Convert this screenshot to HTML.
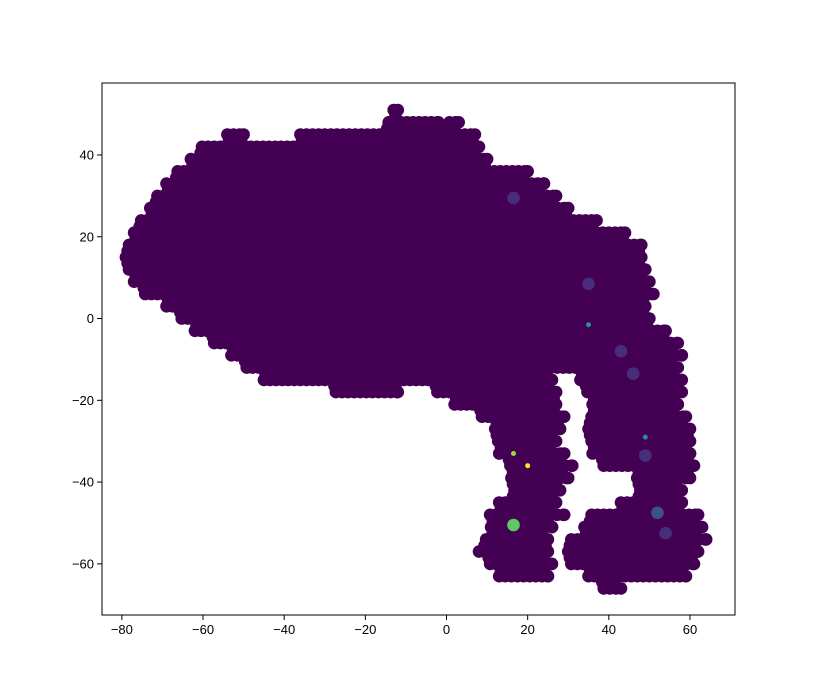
<!DOCTYPE html>
<html><head><meta charset="utf-8"><style>
body{margin:0;background:#fff;}
svg text{font-family:"Liberation Sans",sans-serif;font-size:13px;fill:#000;}
</style></head><body>
<svg id="chart" width="817" height="691" xmlns="http://www.w3.org/2000/svg">
<rect width="817" height="691" fill="#fff"/>
<g id="marks"></g>
<g id="axes"></g>
</svg>
<script>
// Observed point cloud: for each row y (data units), the x-intervals covered by points
const rowY = [51,48,45,42,39,36,33,30,27,24,21,18,15,12,9,6,3,0,-3,-6,-9,-12,-15,-18,-21,-24,-27,-30,-33,-36,-39,-42,-45,-48,-51,-54,-57,-60,-63,-66];
const rowSpans = [
 [[-13,-12]],
 [[-15,-2],[0,3]],
 [[-54,-50],[-36,7]],
 [[-61,8]],
 [[-63,10]],
 [[-67,20]],
 [[-69,24]],
 [[-72,27]],
 [[-73,30]],
 [[-76,37]],
 [[-77,44]],
 [[-79,48]],
 [[-79,48]],
 [[-79,49]],
 [[-77,50]],
 [[-75,51]],
 [[-69,49]],
 [[-66,50]],
 [[-62,54]],
 [[-58,57]],
 [[-53,58]],
 [[-50,57]],
 [[-45,26],[33,58]],
 [[-28,-12],[-3,27],[34,58]],
 [[2,27],[36,57]],
 [[8,29],[35,59]],
 [[12,28],[35,60]],
 [[12,27],[35,60]],
 [[13,29],[36,60]],
 [[15,31],[38,61]],
 [[16,30],[47,60]],
 [[16,28],[47,58]],
 [[13,27],[43,58]],
 [[10,29],[35,62]],
 [[11,26],[34,63]],
 [[9,25],[30,64]],
 [[8,25],[30,62]],
 [[10,26],[30,61]],
 [[13,25],[35,59]],
 [[38,43]]
];
// Highlighted (non-zero class) points
const hiX = [16.5, 35, 43, 46, 49, 54, 52];
const hiY = [29.5, 8.5, -8, -13.5, -33.5, -52.5, -47.5];
const hiColor = ["#472d7b","#472d7b","#472d7b","#472d7b","#472d7b","#472d7b","#3b528b"];
const smallX = [20, 35, 16.5, 49];
const smallY = [-36, -1.5, -33, -29];
const smallColor = ["#fde725","#21918c","#a0da39","#21918c"];
const greenX = [16.5], greenY = [-50.5];
const xTicks = [-80,-60,-40,-20,0,20,40,60];
const yTicks = [-60,-40,-20,0,20,40];

const L=102,R=735,T=83,B=615;
const xMin=-84.9,xMax=71.1,yMin=-72.5,yMax=57.6;
const sx=v=>L+(v-xMin)/(xMax-xMin)*(R-L);
const sy=v=>B-(v-yMin)/(yMax-yMin)*(B-T);
const NS="http://www.w3.org/2000/svg";
const marks=document.getElementById('marks');
const axes=document.getElementById('axes');
function dot(x,y,c,name,r){
  const e=document.createElementNS(NS,'circle');
  e.setAttribute('cx',sx(x).toFixed(1));e.setAttribute('cy',sy(y).toFixed(1));
  e.setAttribute('r',r||6.3);e.setAttribute('fill',c);
  
  
  marks.appendChild(e);
}
rowY.forEach((y,i)=>{
  const off=(i%2)*0.75;
  rowSpans[i].forEach(s=>{
    for(let x=s[0]+off;x<=s[1]+0.01;x+=1.5) dot(x,y,'#440154','point');
    dot(s[1],y,'#440154','point');
  });
  // fill between this row and the next where spans overlap
  if(i<rowY.length-1){
    const ym=(y+rowY[i+1])/2;
    rowSpans[i].forEach(a=>rowSpans[i+1].forEach(b=>{
      const lo=Math.max(a[0],b[0]),hi=Math.min(a[1],b[1]);
      for(let x=lo+0.4;x<=hi-0.4;x+=1.5) dot(x,ym,'#440154','point');
    }));
  }
});
hiX.forEach((x,i)=>dot(x,hiY[i],hiColor[i],'highlight-point'));
smallX.forEach((x,i)=>dot(x,smallY[i],smallColor[i],'partial-point',2.5));
greenX.forEach((x,i)=>dot(x,greenY[i],'#5ec962','highlight-point'));

function el(tag,attrs,name,txt){
  const e=document.createElementNS(NS,tag);
  for(const k in attrs) e.setAttribute(k,attrs[k]);
  
  
  if(txt!==undefined) e.textContent=txt;
  axes.appendChild(e);return e;
}
el('rect',{x:L,y:T,width:R-L,height:B-T,fill:'none',stroke:'#000','stroke-width':1},'plot-frame');
xTicks.forEach(t=>{
  const x=sx(t);
  el('line',{x1:x,y1:B,x2:x,y2:B+5,stroke:'#000'},'x-tick');
  el('text',{x:x,y:B+19,'text-anchor':'middle'},'x-tick-label',t<0?'\u2212'+(-t):String(t));
});
yTicks.forEach(t=>{
  const y=sy(t);
  el('line',{x1:L-5,y1:y,x2:L,y2:y,stroke:'#000'},'y-tick');
  el('text',{x:L-8,y:y+4.5,'text-anchor':'end'},'y-tick-label',t<0?'\u2212'+(-t):String(t));
});
</script>
</body></html>
